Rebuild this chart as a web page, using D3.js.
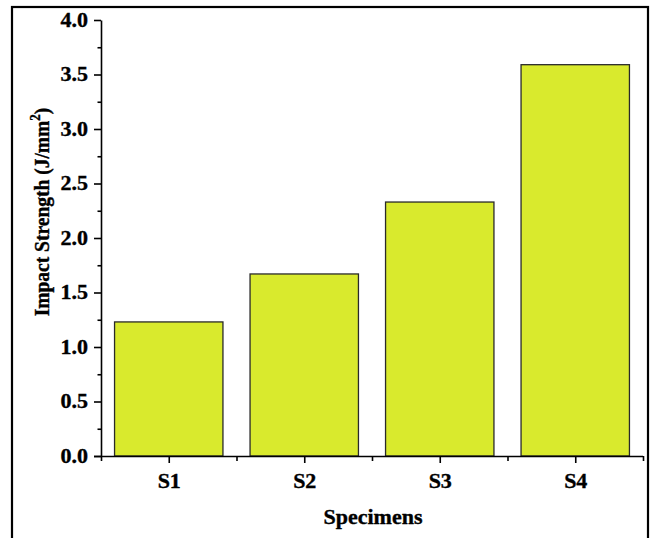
<!DOCTYPE html>
<html>
<head>
<meta charset="utf-8">
<script src="https://cdn.jsdelivr.net/npm/d3@7"></script>
<style>
body{margin:0;background:#fff}
svg text{font-family:"Liberation Serif","Times New Roman",serif;font-weight:bold;fill:#000;stroke:#000;stroke-width:0.35}
.axis path,.axis line{stroke:#000;stroke-width:1.6}
</style>
</head>
<body>
<div id="chart"></div>
<script>
// data
var specimens=['S1','S2','S3','S4']
var strength=[1.23,1.67,2.33,3.59]
var yTicks=[0,0.5,1,1.5,2,2.5,3,3.5,4]

var W=651,H=538
var sx=1.1 // the original text looks a bit wide
var svg=d3.select('#chart').append('svg').attr('width',W).attr('height',H)

// outer frame
svg.append('rect').attr('x',12).attr('y',7).attr('width',636).attr('height',540)
  .attr('fill','none').attr('stroke','#000').attr('stroke-width',2.2)

var x=d3.scaleLinear().domain([0.5,4.5]).range([101,643])
var y=d3.scaleLinear().domain([0,4]).range([456,20])

// bars
svg.selectAll('.bar').data(strength).enter().append('rect')
  .attr('class','bar')
  .attr('x',function(d,i){return x(i+1-0.4)})
  .attr('width',function(d,i){return x(i+1+0.4)-x(i+1-0.4)})
  .attr('y',function(d){return y(d)})
  .attr('height',function(d){return y(0)-y(d)})
  .attr('fill','#d9ea2d')
  .attr('stroke','#2a2a2a')
  .attr('stroke-width',1.3)

// y axis, minor ticks first
var yMinor=d3.range(0.25,4,0.5)
svg.append('g').attr('class','axis').attr('transform','translate(101,0)')
  .call(d3.axisLeft(y).tickValues(yMinor).tickSize(3.5).tickFormat(''))
  .select('.domain').remove()
var yaxis=svg.append('g').attr('class','axis').attr('transform','translate(101,0)')
  .call(d3.axisLeft(y).tickValues(yTicks).tickSize(7).tickSizeOuter(0).tickPadding(6).tickFormat(d3.format('.1f')))
yaxis.selectAll('text').style('font-size','20px')
  .attr('transform','translate(-13,0) scale('+sx+',1) translate(13,0)')

// x axis
svg.append('g').attr('class','axis').attr('transform','translate(0,456)')
  .call(d3.axisBottom(x).tickValues([0.5,1.5,2.5,3.5,4.5]).tickSize(5).tickFormat(''))
  .select('.domain').remove()
var xaxis=svg.append('g').attr('class','axis').attr('transform','translate(0,456)')
  .call(d3.axisBottom(x).tickValues([1,2,3,4]).tickSize(7).tickSizeOuter(0).tickPadding(11)
    .tickFormat(function(d){return specimens[d-1]}))
xaxis.select('.domain').attr('d','M94,0.5H643')
xaxis.selectAll('text').style('font-size','20px').attr('transform','scale('+sx+',1)')

// axis titles
svg.append('text').attr('transform','translate(373,524) scale('+sx+',1)').attr('text-anchor','middle')
  .style('font-size','20px').text('Specimens')

var yt=svg.append('text').attr('transform','translate(49,212) scale('+sx+',1) rotate(-90)')
  .attr('text-anchor','middle').style('font-size','19.5px')
yt.append('tspan').text('Impact Strength (J/mm')
yt.append('tspan').attr('dy',-8).style('font-size','13px').text('2')
yt.append('tspan').attr('dy',8).text(')')
</script>
</body>
</html>
